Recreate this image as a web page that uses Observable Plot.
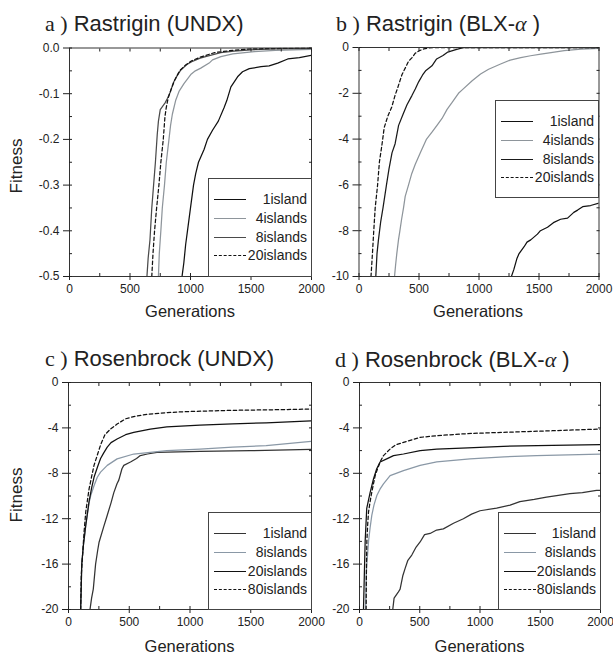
<!DOCTYPE html>
<html><head><meta charset="utf-8">
<script src="https://cdn.jsdelivr.net/npm/d3@7"></script>
<script src="https://cdn.jsdelivr.net/npm/@observablehq/plot@0.6"></script>
<style>
body{margin:0;background:#fff;}
#chart{position:relative;width:613px;height:656px;overflow:hidden;font-family:"Liberation Sans",Arial,sans-serif;color:#222;background:#fff;}
.panel{position:absolute;}
.title{position:absolute;font-family:"Liberation Sans",Arial,sans-serif;font-size:22px;line-height:22px;white-space:nowrap;color:#222;}
.serif{font-family:"Liberation Serif","Times New Roman",serif;}
.alpha{font-family:"Liberation Serif","Times New Roman",serif;font-style:italic;}
.xl{position:absolute;font-family:"Liberation Sans",Arial,sans-serif;font-size:16.5px;line-height:16px;transform:translateX(-50%);white-space:nowrap;}
.yl{position:absolute;font-family:"Liberation Sans",Arial,sans-serif;font-size:17px;line-height:17px;transform:translate(-50%,-50%) rotate(-90deg);white-space:nowrap;}
.legend{position:absolute;border:1px solid #444;background:#fff;box-sizing:border-box;}
.lrow{position:absolute;left:0;right:0;height:14px;}
.lline{position:absolute;left:5px;width:32px;top:7px;height:0;}
.ltext{position:absolute;right:4px;top:0;font-family:"Liberation Sans",Arial,sans-serif;font-size:14px;line-height:14px;white-space:nowrap;}
</style>
</head><body>
<div id="chart"></div>
<script>
// ---------- data (generation, fitness) ----------
const xTickValues = [0, 500, 1000, 1500, 2000];
const xMinorValues = [250, 750, 1250, 1750];

// a) Rastrigin (UNDX)
const a_1island = [[930,-0.5],[945,-0.47],[960,-0.43],[975,-0.4],[1000,-0.35],[1025,-0.3],[1043,-0.275],[1066,-0.25],[1112,-0.222],[1140,-0.2],[1182,-0.18],[1230,-0.16],[1278,-0.13],[1300,-0.115],[1334,-0.085],[1389,-0.063],[1430,-0.052],[1486,-0.045],[1583,-0.041],[1650,-0.039],[1721,-0.033],[1804,-0.024],[1900,-0.021],[2000,-0.016]];
const a_4islands = [[735,-0.5],[742,-0.45],[755,-0.4],[767,-0.35],[785,-0.3],[800,-0.25],[822,-0.2],[835,-0.17],[850,-0.145],[877,-0.115],[905,-0.095],[946,-0.078],[1002,-0.058],[1040,-0.05],[1085,-0.044],[1154,-0.033],[1182,-0.026],[1251,-0.019],[1350,-0.013],[1527,-0.008],[1700,-0.005],[2000,-0.003]];
const a_8islands = [[640,-0.5],[650,-0.46],[665,-0.42],[680,-0.35],[695,-0.3],[710,-0.25],[725,-0.19],[735,-0.16],[750,-0.135],[790,-0.12],[810,-0.11],[835,-0.095],[860,-0.075],[880,-0.065],[920,-0.048],[970,-0.036],[1010,-0.03],[1080,-0.022],[1140,-0.018],[1250,-0.01],[1360,-0.007],[1500,-0.004],[1700,-0.002],[2000,-0.001]];
const a_20islands = [[680,-0.5],[690,-0.45],[703,-0.4],[720,-0.35],[739,-0.3],[755,-0.25],[775,-0.2],[789,-0.15],[800,-0.13],[815,-0.11],[840,-0.09],[870,-0.07],[910,-0.05],[960,-0.037],[1010,-0.028],[1080,-0.02],[1200,-0.01],[1350,-0.005],[1500,-0.002],[2000,0]];
const a_yTicks = [0, -0.1, -0.2, -0.3, -0.4, -0.5];
const a_yMinor = [-0.05, -0.15, -0.25, -0.35, -0.45];

// b) Rastrigin (BLX-alpha)
const b_1island = [[1270,-10],[1290,-9.7],[1317,-9.2],[1334,-9],[1376,-8.7],[1400,-8.5],[1431,-8.4],[1487,-8.15],[1512,-8],[1571,-7.85],[1620,-7.65],[1680,-7.5],[1738,-7.45],[1790,-7.2],[1822,-7.1],[1864,-6.95],[1930,-6.9],[2000,-6.8]];
const b_4islands = [[296,-10],[305,-9.5],[315,-9],[329,-8.4],[341,-8],[355,-7.5],[371,-7],[385,-6.5],[413,-6],[440,-5.5],[469,-5.1],[511,-4.6],[563,-4],[608,-3.7],[650,-3.4],[692,-3.1],[734,-2.7],[776,-2.4],[829,-2],[860,-1.85],[943,-1.45],[1013,-1.16],[1080,-0.95],[1180,-0.72],[1260,-0.55],[1348,-0.44],[1430,-0.36],[1515,-0.29],[1600,-0.22],[1710,-0.14],[1850,-0.07],[2000,-0.04]];
const b_8islands = [[140,-10],[150,-9],[162,-8.4],[181,-7.6],[200,-7],[229,-6],[250,-5.3],[275,-4.6],[301,-4.2],[330,-3.4],[368,-2.9],[400,-2.5],[441,-2.1],[470,-1.8],[497,-1.5],[530,-1.2],[558,-1],[608,-0.8],[647,-0.5],[700,-0.35],[740,-0.2],[800,-0.1],[860,-0.02],[900,0],[2000,0]];
const b_20islands = [[100,-10],[112,-9],[123,-8],[135,-7],[155,-6],[170,-5],[190,-4.3],[210,-3.5],[240,-3],[273,-2.6],[300,-2.1],[320,-1.8],[357,-1.2],[385,-0.9],[413,-0.6],[440,-0.45],[469,-0.25],[500,-0.15],[540,-0.06],[580,-0.02],[620,0],[2000,0]];
const b_yTicks = [0, -2, -4, -6, -8, -10];
const b_yMinor = [-1, -3, -5, -7, -9];

// c) Rosenbrock (UNDX)
const c_1island = [[177,-20],[190,-19],[204,-18.2],[223,-16],[240,-14.8],[251,-14.1],[290,-12.7],[319,-11.7],[350,-10.6],[373,-9.7],[400,-8.9],[414,-8.6],[440,-7.6],[455,-7.3],[510,-7.0],[560,-6.7],[591,-6.44],[650,-6.3],[728,-6.15],[1082,-6.06],[1500,-6.0],[2000,-5.9]];
const c_8islands = [[100,-20],[105,-18],[109,-16],[123,-14.3],[142,-12.6],[169,-10.6],[183,-9.96],[210,-9.1],[237,-8.35],[264,-7.9],[319,-7.3],[400,-6.73],[537,-6.3],[673,-6.15],[809,-6.0],[1082,-5.86],[1350,-5.7],[1627,-5.56],[2000,-5.18]];
const c_20islands = [[100,-20],[105,-18],[109,-16],[123,-14.3],[142,-12.6],[169,-10.5],[190,-9.3],[210,-8.35],[240,-7.4],[264,-6.7],[290,-6.2],[319,-5.7],[350,-5.3],[400,-4.98],[470,-4.6],[537,-4.4],[673,-4.1],[809,-3.9],[1082,-3.75],[1350,-3.65],[1627,-3.55],[2000,-3.37]];
const c_80islands = [[100,-20],[105,-17],[114,-15.5],[128,-13.2],[142,-11.4],[169,-9.4],[190,-8.3],[210,-7.3],[240,-6.3],[264,-5.5],[300,-4.6],[346,-4.1],[400,-3.66],[470,-3.2],[537,-3.0],[650,-2.8],[809,-2.65],[1000,-2.55],[1354,-2.45],[1700,-2.4],[2000,-2.34]];
const cd_yTicks = [0, -4, -8, -12, -16, -20];
const cd_yMinor = [-2, -6, -10, -14, -18];

// d) Rosenbrock (BLX-alpha)
const d_1island = [[276,-20],[287,-19],[320,-18.5],[337,-18.2],[360,-17],[378,-16.4],[400,-15.7],[434,-15.2],[470,-14.5],[503,-14.05],[540,-13.4],[586,-13.3],[640,-13],[696,-12.9],[780,-12.4],[862,-12.0],[930,-11.6],[1000,-11.3],[1138,-11.07],[1250,-10.8],[1331,-10.5],[1450,-10.3],[1552,-10.1],[1650,-9.95],[1746,-9.8],[1850,-9.7],[1967,-9.5],[2000,-9.5]];
const d_8islands = [[50,-20],[55,-17],[61,-16],[75,-14],[88,-12.8],[102,-11.7],[120,-10.8],[144,-9.96],[170,-9.4],[199,-8.93],[254,-8.2],[365,-7.76],[503,-7.3],[641,-7.0],[917,-6.73],[1200,-6.55],[1469,-6.44],[2000,-6.3]];
const d_20islands = [[33,-20],[40,-17],[47,-14],[60,-11.1],[88,-9.7],[116,-8.5],[143,-7.6],[171,-7.0],[226,-6.73],[282,-6.44],[365,-6.3],[503,-6.0],[641,-5.86],[900,-5.75],[1193,-5.62],[1600,-5.55],[2000,-5.48]];
const d_80islands = [[55,-20],[58,-16],[61,-14],[68,-12.5],[75,-11.4],[88,-10.5],[102,-9.66],[130,-8.2],[150,-7.6],[171,-7.0],[199,-6.44],[254,-5.86],[300,-5.5],[365,-5.27],[503,-4.83],[641,-4.69],[900,-4.5],[1193,-4.39],[1600,-4.25],[2000,-4.1]];

// ---------- drawing ----------
const chart = document.getElementById("chart");
const FONT = '"Liberation Sans", Arial, sans-serif';

function panel(p) {
  const marks = [];
  for (const s of p.series) {
    marks.push(Plot.line(s.data, {x: d => d[0], y: d => d[1], stroke: s.color, strokeWidth: 1.25, strokeDasharray: s.dash || null, clip: true}));
  }
  const ax = {label: null, fontSize: 12, color: "#222"};
  marks.push(
    Plot.frame({stroke: "#333", strokeWidth: 1}),
    Plot.axisX({...ax, ticks: xTickValues, anchor: "bottom", tickSize: 4, tickPadding: 4, tickFormat: d => String(d)}),
    Plot.axisX({...ax, ticks: xTickValues, anchor: "bottom", tickSize: -3, fill: "none"}),
    Plot.axisX({...ax, ticks: xMinorValues, anchor: "bottom", tickSize: -3, fill: "none"}),
    Plot.axisX({...ax, ticks: xTickValues.concat(xMinorValues), anchor: "top", tickSize: -3, fill: "none"}),
    Plot.axisY({...ax, ticks: p.yTicks, anchor: "left", tickSize: 6, tickPadding: 4, tickFormat: p.yFmt}),
    Plot.axisY({...ax, ticks: p.yTicks, anchor: "left", tickSize: -3, fill: "none"}),
    Plot.axisY({...ax, ticks: p.yMinor, anchor: "left", tickSize: -3, fill: "none"}),
    Plot.axisY({...ax, ticks: p.yTicks.concat(p.yMinor), anchor: "right", tickSize: -3, fill: "none"})
  );
  const svg = Plot.plot({
    width: p.width, height: p.height,
    marginLeft: p.mL, marginRight: p.mR, marginTop: p.mT, marginBottom: p.mB,
    style: {fontFamily: FONT, fontSize: "12px", color: "#222", background: "transparent", overflow: "visible"},
    x: {domain: [0, 2000], axis: null},
    y: {domain: p.yDomain, axis: null},
    marks
  });
  svg.classList.add("panel");
  svg.style.left = p.left + "px";
  svg.style.top = p.top + "px";
  chart.appendChild(svg);

  // legend
  const lg = document.createElement("div");
  lg.className = "legend";
  Object.assign(lg.style, {left: p.lg[0] + "px", top: p.lg[1] + "px", width: p.lg[2] + "px", height: p.lg[3] + "px"});
  const rows = [21, 40, 58.5, 77];
  p.series.forEach((s, i) => {
    const r = document.createElement("div");
    r.className = "lrow";
    r.style.top = (rows[i] - 7 - 1) + "px";
    const ln = document.createElement("div");
    ln.className = "lline";
    ln.style.borderTop = "1.3px " + (s.dash ? "dashed" : "solid") + " " + s.color;
    const tx = document.createElement("div");
    tx.className = "ltext";
    tx.textContent = s.name;
    r.appendChild(ln); r.appendChild(tx);
    lg.appendChild(r);
  });
  chart.appendChild(lg);
}

function addHTML(html) { chart.insertAdjacentHTML("beforeend", html); }

const fmt1 = d => d.toFixed(1);
const fmt0 = d => String(d);

panel({left: 0, top: 0, width: 316, height: 328, mL: 69, mR: 5, mT: 47.5, mB: 52,
  yDomain: [-0.5, 0], yTicks: a_yTicks, yMinor: a_yMinor, yFmt: fmt1,
  lg: [208, 178, 104, 99],
  series: [
    {name: "1island", data: a_1island, color: "#111"},
    {name: "4islands", data: a_4islands, color: "#8e959b"},
    {name: "8islands", data: a_8islands, color: "#4a4a4a"},
    {name: "20islands", data: a_20islands, color: "#111", dash: "3.5,2.5"}
  ]});

panel({left: 316, top: 0, width: 297, height: 328, mL: 42.5, mR: 14.5, mT: 47, mB: 52,
  yDomain: [-10, 0], yTicks: b_yTicks, yMinor: b_yMinor, yFmt: fmt0,
  lg: [495, 100, 104, 98],
  series: [
    {name: "1island", data: b_1island, color: "#111"},
    {name: "4islands", data: b_4islands, color: "#8e959b"},
    {name: "8islands", data: b_8islands, color: "#1a1a1a"},
    {name: "20islands", data: b_20islands, color: "#111", dash: "3.5,2.5"}
  ]});

panel({left: 0, top: 328, width: 316, height: 328, mL: 68, mR: 5, mT: 54, mB: 47,
  yDomain: [-20, 0], yTicks: cd_yTicks, yMinor: cd_yMinor, yFmt: fmt0,
  lg: [208, 512, 104, 98],
  series: [
    {name: "1island", data: c_1island, color: "#333"},
    {name: "8islands", data: c_8islands, color: "#8a98a6"},
    {name: "20islands", data: c_20islands, color: "#111"},
    {name: "80islands", data: c_80islands, color: "#111", dash: "3.5,2.5"}
  ]});

panel({left: 316, top: 328, width: 297, height: 328, mL: 43, mR: 13, mT: 54, mB: 47,
  yDomain: [-20, 0], yTicks: cd_yTicks, yMinor: cd_yMinor, yFmt: fmt0,
  lg: [498, 512, 103, 98],
  series: [
    {name: "1island", data: d_1island, color: "#333"},
    {name: "8islands", data: d_8islands, color: "#8a98a6"},
    {name: "20islands", data: d_20islands, color: "#111"},
    {name: "80islands", data: d_80islands, color: "#111", dash: "3.5,2.5"}
  ]});

// titles and axis labels
addHTML('<div class="title" style="left:45px;top:13px"><span class="serif">a )</span> Rastrigin (UNDX)</div>');
addHTML('<div class="title" style="left:336px;top:13px"><span class="serif">b )</span> Rastrigin (BLX-<span class="alpha">α</span> )</div>');
addHTML('<div class="title" style="left:45px;top:348px"><span class="serif">c )</span> Rosenbrock (UNDX)</div>');
addHTML('<div class="title" style="left:335px;top:348.5px"><span class="serif">d )</span> Rosenbrock (BLX-<span class="alpha">α</span> )</div>');
addHTML('<div class="xl" style="left:190px;top:302.5px">Generations</div>');
addHTML('<div class="xl" style="left:478px;top:302.5px">Generations</div>');
addHTML('<div class="xl" style="left:189.5px;top:638px">Generations</div>');
addHTML('<div class="xl" style="left:479.5px;top:638px">Generations</div>');
addHTML('<div class="yl" style="left:16px;top:166px">Fitness</div>');
addHTML('<div class="yl" style="left:16px;top:495px">Fitness</div>');
</script>
</body></html>
